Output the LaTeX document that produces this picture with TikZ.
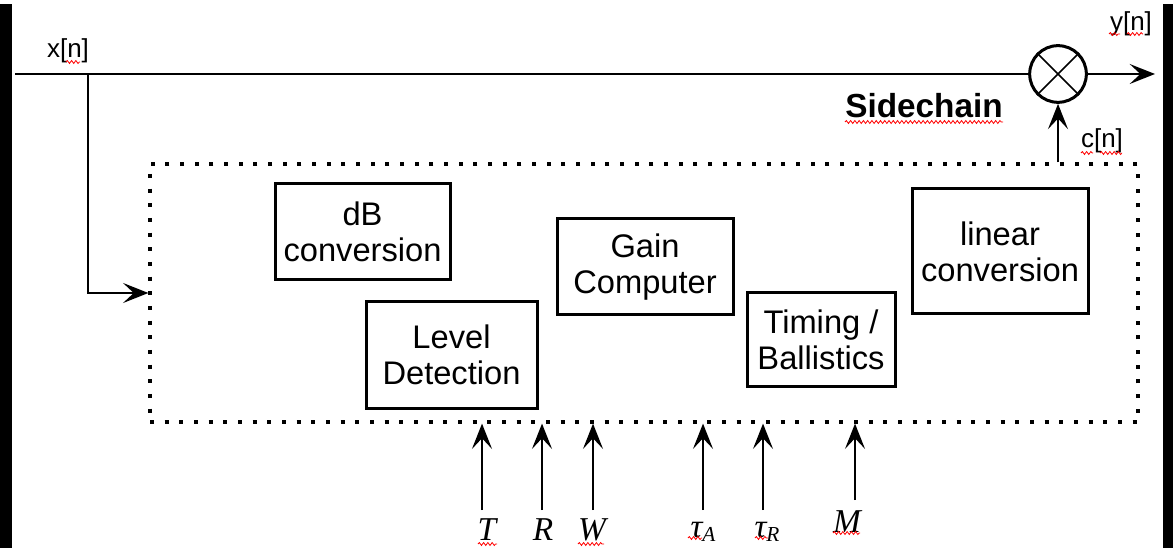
\documentclass[tikz,border=0pt]{standalone}
\usepackage{fontspec}
\setmainfont{Liberation Sans}
\newfontfamily\tms{Liberation Serif}
\usetikzlibrary{arrows.meta,fit,decorations.pathmorphing}
\begin{document}
\begin{tikzpicture}[x=0.75pt,y=-0.75pt,
  blk/.style={draw, line width=2.25pt, inner sep=0pt, align=center,
              font=\fontsize{24.5}{27}\selectfont},
  sig/.style={line width=1.5pt},
  arr/.style={sig, -{Stealth[length=19pt,width=15pt,inset=8pt]}},
  lbl/.style={font=\fontsize{19.5}{22}\selectfont, inner sep=0pt},
  prm/.style={font=\tms\itshape\fontsize{25}{27}\selectfont, inner sep=0pt, anchor=base},
  squig/.style={red, line width=0.6pt, decorate,
                decoration={snake, amplitude=1.1pt, segment length=3.2pt}}]
\useasboundingbox (0,0) rectangle (1173,548);

% side bars
\fill[black] (0,4) rectangle (12,548);
\fill[black] (1163,4) rectangle (1173,548);

% sidechain processing blocks
\node[blk, minimum width=131.25pt, minimum height=72pt]   (db)   at (362.5,232) {dB\\conversion};
\node[blk, minimum width=128.25pt, minimum height=79.5pt] (lvl)  at (451.5,355) {Level\\Detection};
\node[blk, minimum width=132pt,    minimum height=72pt]   (gain) at (645,267)   {Gain\\Computer};
\node[blk, minimum width=111pt,    minimum height=70.5pt] (tim)  at (821,340)   {Timing /\\Ballistics};
\node[blk, minimum width=132pt,    minimum height=93.75pt](lin)  at (1000,251.5){linear\\conversion};

% dotted sidechain frame
\node[draw, line width=2.4pt, dash pattern=on 3pt off 8pt, inner sep=0pt,
      fit={(150,164) (1138,422)}] (side) {};
\node[font=\bfseries\fontsize{25}{28}\selectfont, inner sep=0pt, anchor=base] (sc) at (924,118) {Sidechain};

% multiplier
\node[circle, draw, line width=2.25pt, minimum size=42.5pt, inner sep=0pt] (mul) at (1058,74) {};
\draw[line width=1.1pt] (mul.north east) -- (mul.south west)
                        (mul.north west) -- (mul.south east);

% main signal path
\coordinate (xin) at (15,74);
\coordinate (br) at (88,74);
\coordinate (yout) at (1155,74);
\draw[sig] (xin) -- (mul);
\draw[arr] (mul) -- (yout);
\draw[arr] (br) |- (side.west);
\draw[arr] (side.north -| mul) -- (mul);

% signal labels
\node[lbl] (xl) at (68,51) {x[n]};
\node[lbl] (yl) at (1131,24) {y[n]};
\node[lbl] (cl) at (1102,141) {c[n]};

% parameter inputs
\node[prm] (pT) at (487,540) {T};
\node[prm] (pR) at (543,540) {R};
\node[prm] (pW) at (592,540) {W};
\node[prm] (pA) at (703,537) {τ\raisebox{-0.3ex}{\fontsize{16}{17}\selectfont A}};
\node[prm] (pRr) at (767,537) {τ\raisebox{-0.3ex}{\fontsize{16}{17}\selectfont R}};
\node[prm] (pM) at (847,532) {M};

\coordinate (aT) at (482,510);
\coordinate (aR) at (542,510);
\coordinate (aW) at (593,510);
\coordinate (aA) at (703,510);
\coordinate (aRr) at (763,510);
\coordinate (aM) at (855,500);
\foreach \c in {aT,aR,aW,aA,aRr,aM}
  \draw[arr] (\c) -- (\c |- side.south);

% spelling marks
\draw[squig] (66,62) -- (80,62);
\draw[squig] (1109,34) -- (1120,34);
\draw[squig] (1127,34) -- (1143,34);
\draw[squig] (845,122) -- (1003,122);
\draw[squig] (1081,153) -- (1093,153);
\draw[squig] (1100,153) -- (1122,153);
\draw[squig] (478,544) -- (497,544);
\draw[squig] (578,544) -- (604,544);
\draw[squig] (688,538) -- (702,538);
\draw[squig] (755,538) -- (768,538);
\draw[squig] (833,533) -- (860,533);
\end{tikzpicture}
\end{document}
